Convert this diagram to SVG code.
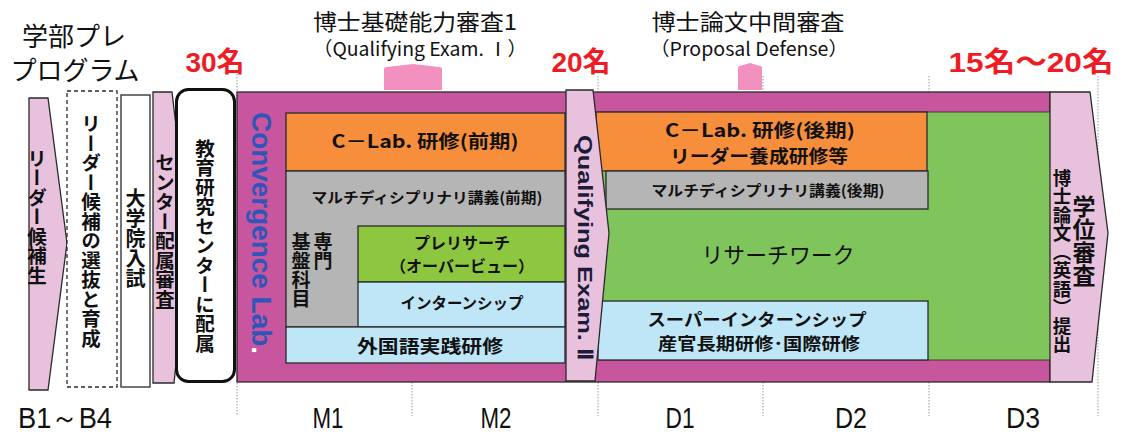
<svg xmlns="http://www.w3.org/2000/svg" width="1124" height="437" viewBox="0 0 1124 437">
<style>
.jp{font-family:"Noto Sans CJK JP","Liberation Sans",sans-serif;fill:#111}
.b{font-weight:bold}
.v{writing-mode:vertical-rl;text-anchor:middle}
.red{font-family:"Liberation Sans","Noto Sans CJK JP",sans-serif;font-weight:bold;fill:#EE1C25;font-size:28px;text-anchor:middle}
.yr{font-family:"Liberation Sans",sans-serif;font-size:30px;fill:#111;text-anchor:middle}
.box{stroke:#2a2a2a;stroke-width:1.3}
.pk{fill:#E8C2DD;stroke:#2a2a2a;stroke-width:1.3}
.dot{stroke:#9a9a9a;stroke-width:1;stroke-dasharray:1.5,1.5;fill:none}
.mid{text-anchor:middle}
</style>

<g id="guides">
<line class="dot" x1="237" y1="74" x2="237" y2="416"/>
<line class="dot" x1="412" y1="382" x2="412" y2="416"/>
<line class="dot" x1="598" y1="76" x2="598" y2="416"/>
<line class="dot" x1="763" y1="76" x2="763" y2="416"/>
<line class="dot" x1="929" y1="76" x2="929" y2="416"/>
<line class="dot" x1="1098" y1="76" x2="1098" y2="416"/>
</g>

<g id="titles">
<text class="jp mid" x="74" y="46" font-size="26">学部プレ</text>
<text class="jp mid" x="75" y="80" font-size="26">プログラム</text>
<text class="red" x="215" y="72">30名</text>
<text class="red" x="581" y="72">20名</text>
<text class="red" x="1031" y="72" textLength="165" lengthAdjust="spacingAndGlyphs">15名～20名</text>
<text class="jp mid" x="415" y="30" font-size="22" textLength="204" lengthAdjust="spacingAndGlyphs">博士基礎能力審査1</text>
<text class="jp mid" x="420" y="56" font-size="19" textLength="214" lengthAdjust="spacingAndGlyphs">（Qualifying Exam. Ⅰ）</text>
<text class="jp mid" x="748" y="30" font-size="22" textLength="193" lengthAdjust="spacingAndGlyphs">博士論文中間審査</text>
<text class="jp mid" x="749" y="56" font-size="19" textLength="198" lengthAdjust="spacingAndGlyphs">（Proposal Defense）</text>
</g>

<g id="pre-program">
<polygon class="pk" points="29,98 48,98 67,243 48,390 29,390"/>
<text class="jp b v" x="37" y="217" font-size="19.5">リーダー候補生</text>
<rect x="67" y="91" width="50" height="296" fill="#fff" stroke="#2a2a2a" stroke-width="1.3" stroke-dasharray="4,3"/>
<text class="jp b v" x="91" y="231" font-size="19.5">リーダー候補の選抜と育成</text>
<rect class="box" x="121" y="95" width="29" height="292" fill="#fff"/>
<text class="jp b v" x="135.5" y="238" font-size="20">大学院入試</text>
<polygon class="pk" points="153,92 172,92 189,237 174,383 153,383"/>
<text class="jp b v" x="165" y="231" font-size="19.5">センター配属審査</text>
<rect x="176.5" y="89.5" width="58" height="292" rx="12" fill="#fff" stroke="#111" stroke-width="3"/>
<text class="jp b v" x="205" y="246" font-size="19.5">教育研究センターに配属</text>
</g>

<g id="convergence-lab">
<rect class="box" x="237" y="92" width="813" height="290" fill="#C8569E"/>
<text x="252" y="112" transform="rotate(90 252 112)" font-family="Liberation Sans,sans-serif" font-weight="bold" font-size="27" fill="#2F55B8" textLength="242" lengthAdjust="spacingAndGlyphs">Convergence Lab<tspan fill="#fff">.</tspan></text>
</g>

<g id="master-courses">
<rect class="box" x="286" y="113" width="279" height="58" fill="#F68E3C"/>
<text class="jp b mid" x="425" y="148" font-size="18" textLength="187" lengthAdjust="spacingAndGlyphs">C－Lab. 研修(前期)</text>
<rect class="box" x="286" y="171" width="279" height="156" fill="#B5B5B5"/>
<text class="jp b mid" x="427" y="203" font-size="14.5" textLength="231" lengthAdjust="spacingAndGlyphs">マルチディシプリナリ講義(前期)</text>
<text class="jp b" x="323" y="232" font-size="19" style="writing-mode:vertical-rl">専門</text>
<text class="jp b" x="301" y="232" font-size="19" style="writing-mode:vertical-rl">基盤科目</text>
<rect class="box" x="358" y="226" width="207" height="56" fill="#8DC63F"/>
<text class="jp b mid" x="462" y="249" font-size="16">プレリサーチ</text>
<text class="jp b mid" x="462" y="272" font-size="16">（オーバービュー）</text>
<rect class="box" x="358" y="282" width="207" height="45" fill="#BEE6F7"/>
<text class="jp b mid" x="462" y="309" font-size="15.5">インターンシップ</text>
<rect class="box" x="286" y="327" width="279" height="36" fill="#BEE6F7"/>
<text class="jp b mid" x="430" y="353" font-size="18" textLength="146" lengthAdjust="spacingAndGlyphs">外国語実践研修</text>
</g>

<g id="doctor-courses">
<rect x="597" y="112" width="453" height="248" fill="#80C45C"/>
<line x1="597" y1="112" x2="1050" y2="112" stroke="#2a2a2a" stroke-width="0.8"/>
<line x1="597" y1="360" x2="1050" y2="360" stroke="#2a2a2a" stroke-width="0.8"/>
<rect class="box" x="596" y="112" width="331" height="59" fill="#F68E3C"/>
<text class="jp b mid" x="760" y="137" font-size="18" textLength="190" lengthAdjust="spacingAndGlyphs">C－Lab. 研修(後期)</text>
<text class="jp b mid" x="759" y="163" font-size="18" textLength="178" lengthAdjust="spacingAndGlyphs">リーダー養成研修等</text>
<rect class="box" x="606" y="171" width="322" height="38" fill="#B5B5B5"/>
<text class="jp b mid" x="768" y="196" font-size="14.5" textLength="233" lengthAdjust="spacingAndGlyphs">マルチディシプリナリ講義(後期)</text>
<text class="jp mid" x="778" y="263" font-size="22" textLength="153" lengthAdjust="spacingAndGlyphs">リサーチワーク</text>
<rect class="box" x="598" y="301" width="330" height="59" fill="#BEE6F7"/>
<text class="jp b mid" x="757" y="326" font-size="17" textLength="219" lengthAdjust="spacingAndGlyphs">スーパーインターンシップ</text>
<text class="jp b mid" x="759" y="350" font-size="17" textLength="202" lengthAdjust="spacingAndGlyphs">産官長期研修･国際研修</text>
</g>

<g id="qualifying-exam-2">
<polygon class="pk" points="566,90 593,90 609,233 595,381 566,381"/>
<text x="578" y="135" transform="rotate(90 578 135)" font-family="Liberation Sans,sans-serif" font-weight="bold" font-size="21" fill="#1c1c3a" textLength="225" lengthAdjust="spacingAndGlyphs">Qualifying  Exam. Ⅱ</text>
</g>

<g id="degree-review">
<polygon class="pk" points="1050,92 1090,92 1108,233 1092,382 1050,382"/>
<text class="jp b v" x="1062" y="261" font-size="18.5">博士論文（英語）提出</text>
<text class="jp b v" x="1084" y="241" font-size="23">学位審査</text>
</g>

<g id="exam-markers">
<path d="M384,90 L384,69 Q384,67 387,67 L413,64 L439,67 Q442,67 442,69 L442,90 Z" fill="#F290BF"/>
<path d="M738,90 L738,68 Q738,66 740,66 L750,63 L760,66 Q762,66 762,68 L762,90 Z" fill="#F290BF"/>
</g>

<g id="years">
<text class="yr" x="65" y="428" textLength="94" lengthAdjust="spacingAndGlyphs">B1～B4</text>
<text class="yr" x="328" y="428" textLength="31" lengthAdjust="spacingAndGlyphs">M1</text>
<text class="yr" x="496" y="428" textLength="31" lengthAdjust="spacingAndGlyphs">M2</text>
<text class="yr" x="680" y="428" textLength="29" lengthAdjust="spacingAndGlyphs">D1</text>
<text class="yr" x="851" y="428" textLength="32" lengthAdjust="spacingAndGlyphs">D2</text>
<text class="yr" x="1023" y="428" textLength="34" lengthAdjust="spacingAndGlyphs">D3</text>
</g>
</svg>
